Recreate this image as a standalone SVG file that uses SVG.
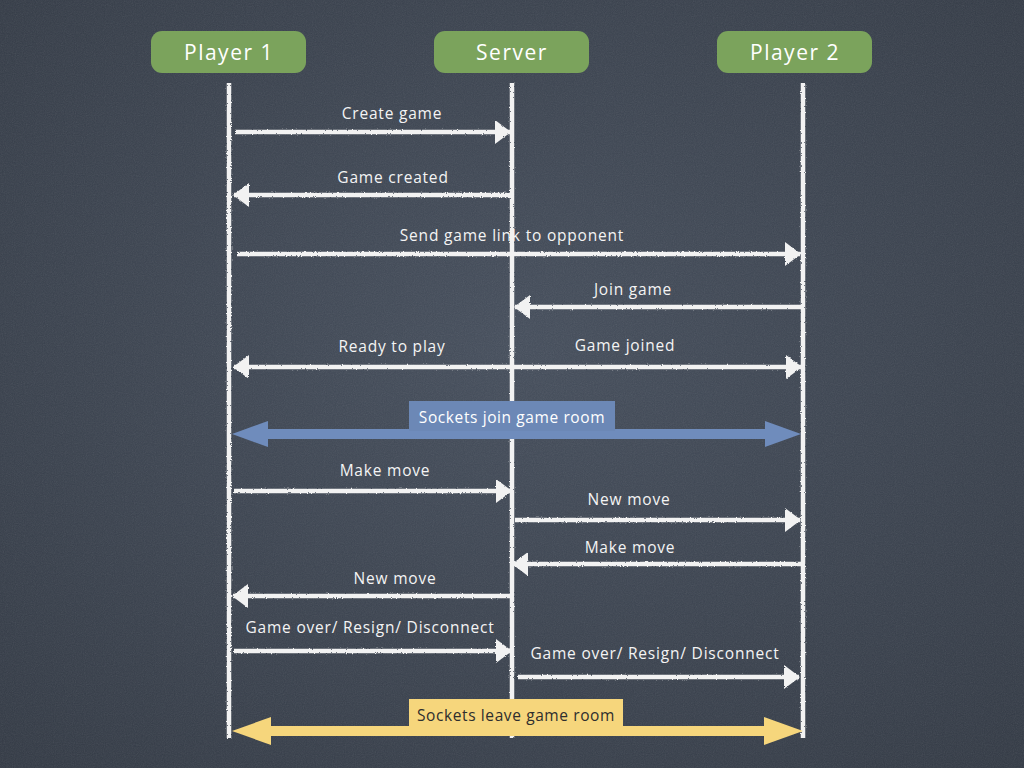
<svg xmlns="http://www.w3.org/2000/svg" width="1024" height="768" viewBox="0 0 1024 768">
<defs>
<style>
.hdr{fill:#7ba35c;}
.hdrt{font-family:"Open Sans","Liberation Sans",sans-serif;font-size:21px;fill:#ffffff;text-anchor:middle;letter-spacing:1.5px;}
.life{stroke:#f2f2f2;stroke-width:4.5;fill:none;}
.msg{stroke:#f2f2f2;stroke-width:4.5;fill:none;}
.lbl{font-family:"Open Sans","Liberation Sans",sans-serif;font-size:15.5px;fill:#f4f4f4;text-anchor:middle;letter-spacing:0.8px;}
.head{fill:#f2f2f2;}
.blue{fill:#6f8cbc;}
.yellow{fill:#f6d67c;}
.bandt{font-family:"Open Sans","Liberation Sans",sans-serif;font-size:15.5px;text-anchor:middle;letter-spacing:0.6px;}
</style>
<filter id="noise" x="0" y="0" width="100%" height="100%">
<feTurbulence type="fractalNoise" baseFrequency="0.9" numOctaves="2" seed="3" result="n"/>
<feColorMatrix type="saturate" values="0"/>
<feComponentTransfer><feFuncA type="linear" slope="0.12"/></feComponentTransfer>
</filter>
<filter id="chalk" x="-5%" y="-50%" width="110%" height="200%">
<feTurbulence type="fractalNoise" baseFrequency="0.8" numOctaves="2" seed="5" result="t"/>
<feDisplacementMap in="SourceGraphic" in2="t" scale="2.5" xChannelSelector="R" yChannelSelector="G"/>
</filter>
<radialGradient id="bg" cx="50%" cy="45%" r="75%">
<stop offset="0" stop-color="#454e5c"/>
<stop offset="1" stop-color="#323944"/>
</radialGradient>
<marker id="ah" viewBox="0 0 16 24" markerWidth="16" markerHeight="24" refX="15" refY="12" markerUnits="userSpaceOnUse" orient="auto-start-reverse">
<path d="M0,0 L16,12 L0,24 z" class="head"/>
</marker>
</defs>

<rect width="1024" height="768" fill="url(#bg)"/>
<rect width="1024" height="768" filter="url(#noise)"/>

<g id="player1">
<rect class="hdr" x="151" y="31" width="155" height="42" rx="11"/>
<text class="hdrt" x="229" y="60">Player 1</text>
</g>
<g id="server">
<rect class="hdr" x="434" y="31" width="155" height="42" rx="11"/>
<text class="hdrt" x="512" y="60">Server</text>
</g>
<g id="player2">
<rect class="hdr" x="717" y="31" width="155" height="42" rx="11"/>
<text class="hdrt" x="795" y="60">Player 2</text>
</g>

<g id="lifelines" filter="url(#chalk)">
<line class="life" x1="229" y1="83" x2="229" y2="738"/>
<line class="life" x1="512" y1="83" x2="512" y2="738"/>
<line class="life" x1="803" y1="83" x2="803" y2="738"/>
</g>

<g id="connectors" filter="url(#chalk)">
<line class="msg" x1="235" y1="132" x2="510" y2="132" marker-end="url(#ah)"/>
<line class="msg" x1="510" y1="195" x2="234" y2="195" marker-end="url(#ah)"/>
<line class="msg" x1="237" y1="254" x2="800" y2="254" marker-end="url(#ah)"/>
<line class="msg" x1="801" y1="307" x2="515" y2="307" marker-end="url(#ah)"/>
<line class="msg" x1="234" y1="367" x2="801" y2="367" marker-start="url(#ah)" marker-end="url(#ah)"/>
<line class="msg" x1="234" y1="491" x2="511" y2="491" marker-end="url(#ah)"/>
<line class="msg" x1="515" y1="520" x2="800" y2="520" marker-end="url(#ah)"/>
<line class="msg" x1="801" y1="564" x2="513" y2="564" marker-end="url(#ah)"/>
<line class="msg" x1="510" y1="596" x2="233" y2="596" marker-end="url(#ah)"/>
<line class="msg" x1="234" y1="651" x2="511" y2="651" marker-end="url(#ah)"/>
<line class="msg" x1="518" y1="677" x2="799" y2="677" marker-end="url(#ah)"/>
</g>

<g id="labels">
<text class="lbl" x="392" y="119">Create game</text>
<text class="lbl" x="393" y="183">Game created</text>
<text class="lbl" x="512" y="241">Send game link to opponent</text>
<text class="lbl" x="633" y="295">Join game</text>
<text class="lbl" x="392" y="352">Ready to play</text>
<text class="lbl" x="625" y="351">Game joined</text>
<text class="lbl" x="385" y="476">Make move</text>
<text class="lbl" x="629" y="505">New move</text>
<text class="lbl" x="630" y="553">Make move</text>
<text class="lbl" x="395" y="584">New move</text>
<text class="lbl" x="370" y="633">Game over/ Resign/ Disconnect</text>
<text class="lbl" x="655" y="659">Game over/ Resign/ Disconnect</text>
</g>

<g id="join-room">
<rect class="blue" x="266" y="429" width="500" height="10"/>
<polygon class="blue" points="232,434 268,421 268,447"/>
<polygon class="blue" points="801,434 765,421 765,447"/>
<rect x="409" y="401" width="206" height="30" fill="#6c88b6"/>
<text class="bandt" x="512" y="423" fill="#ffffff">Sockets join game room</text>
</g>

<g id="leave-room">
<rect class="yellow" x="268" y="726" width="500" height="10"/>
<polygon class="yellow" points="232,731 271,717 271,745"/>
<polygon class="yellow" points="803,731 764,717 764,745"/>
<rect class="yellow" x="409" y="699" width="214" height="30"/>
<text class="bandt" x="516" y="721" fill="#2e2e2e">Sockets leave game room</text>
</g>
</svg>
